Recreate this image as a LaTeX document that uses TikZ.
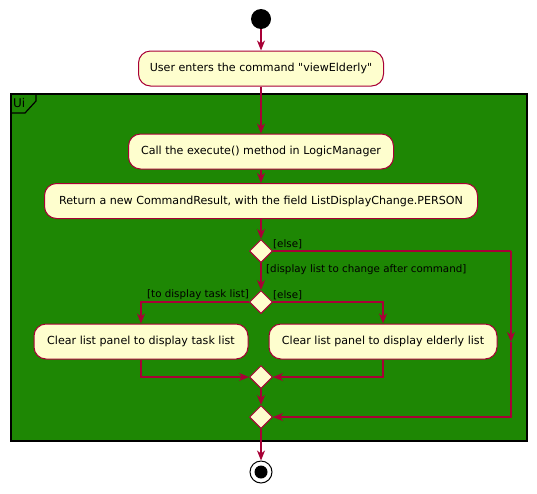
\documentclass[tikz,border=0pt]{standalone}
\usepackage{fontspec}
\newfontfamily\umlfont{DejaVu Sans}
\usetikzlibrary{shapes.geometric,arrows.meta}
\definecolor{umlred}{HTML}{A80036}
\definecolor{umlfill}{HTML}{FEFECE}
\definecolor{uigreen}{HTML}{1E8704}

\begin{document}
\begin{tikzpicture}[x=1pt,y=-1pt,
  act/.style={draw=umlred,fill=umlfill,rounded corners=12pt,line width=1pt,
    font=\umlfont\fontsize{11.1}{13}\selectfont,minimum height=35pt,inner sep=0pt},
  choice/.style={diamond,draw=umlred,fill=umlfill,line width=1pt,
    minimum width=23pt,minimum height=23pt,inner sep=0pt},
  flow/.style={draw=umlred,line width=1.2pt,-{Stealth[length=10pt,width=8pt,inset=3pt]}},
  wire/.style={draw=umlred,line width=1.2pt},
  guard/.style={font=\umlfont\fontsize{10.3}{12}\selectfont,inner sep=1pt}]
\useasboundingbox (0,0) rectangle (537,493);

% frame Ui
\draw[fill=uigreen,line width=1.5pt] (11,94) rectangle (527,441);
\draw[line width=1.2pt] (11,113) -- (25,113) -- (36,101) -- (36,94);
\node[anchor=west,inner sep=1pt,font=\umlfont\fontsize{12}{13}\selectfont] (uilabel) at (12,103) {Ui};

% nodes
\node[circle,fill=black,minimum size=20pt,inner sep=0pt] (start) at (261,19) {};
\node[act,minimum width=245pt] (enter) at (261,68.5) {User enters the command "viewElderly"};
\node[act,minimum width=265pt] (execute) at (261,151.5) {Call the execute() method in LogicManager};
\node[act,minimum width=433pt] (result) at (261,201) {Return a new CommandResult, with the field ListDisplayChange.PERSON};
\node[choice] (change) at (261,251) {};
\node[choice] (which) at (261,302) {};
\node[act,minimum width=214pt] (tasklist) at (141,341.5) {Clear list panel to display task list};
\node[act,minimum width=228pt] (elderlylist) at (383,341.5) {Clear list panel to display elderly list};
\node[choice] (merge) at (261,377) {};
\node[choice] (endif) at (261,417) {};
\node[circle,draw=black,fill=white,line width=1pt,minimum size=22pt,inner sep=0pt] (stop) at (261,472) {};
\node[circle,fill=black,minimum size=13pt,inner sep=0pt] (stopdot) at (stop) {};

\coordinate (elseturn) at (511,251);
\coordinate (elsemid) at (511,342);
\coordinate (elsecorner) at (511,417);

% connectors
\draw[flow] (start) -- (enter);
\draw[flow] (enter) -- (execute);
\draw[flow] (execute) -- (result);
\draw[flow] (result) -- (change);
\draw[flow] (change) -- (which);
\draw[flow] (which.west) -| (tasklist.north);
\draw[flow] (which.east) -| (elderlylist.north);
\draw[flow] (tasklist.south) |- (merge.west);
\draw[flow] (elderlylist.south) |- (merge.east);
\draw[flow] (merge) -- (endif);
\draw[wire] (change.east) -- (elseturn);
\draw[flow] (elseturn) -- (elsemid);
\draw[flow] (elsemid) -- (elsecorner) -- (endif.east);
\draw[flow] (endif) -- (stop);

% guards
\node[guard,anchor=south west] (elseone) at (272,250) {[else]};
\node[guard,anchor=west] (changeguard) at (265,270) {[display list to change after command]};
\node[guard,anchor=south east] (taskguard) at (250,301) {[to display task list]};
\node[guard,anchor=south west] (elsetwo) at (272,301) {[else]};
\end{tikzpicture}
\end{document}
